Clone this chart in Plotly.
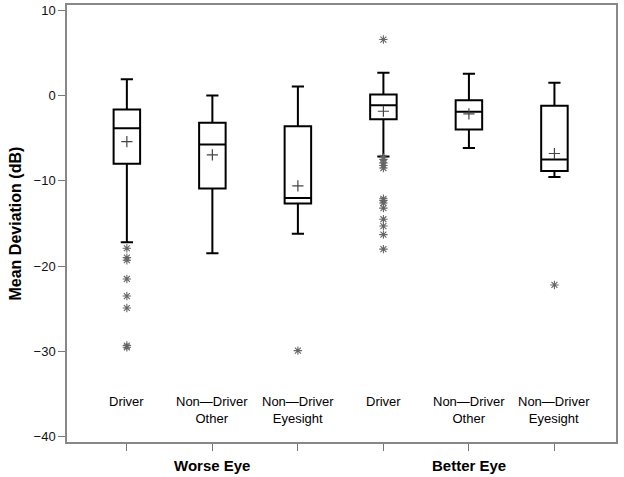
import plotly.graph_objects as go

# ---- data ----
groups = ["Worse Eye", "Better Eye"]
categories = ["Driver", "Non—Driver<br>Other", "Non—Driver<br>Eyesight",
              "Driver", "Non—Driver<br>Other", "Non—Driver<br>Eyesight"]
upper_whisker = [1.9, 0.0, 1.05, 2.65, 2.55, 1.5]
q3 = [-1.65, -3.2, -3.6, 0.1, -0.55, -1.2]
median = [-3.85, -5.75, -12.0, -1.15, -1.9, -7.5]
mean = [-5.4, -6.95, -10.6, -1.85, -2.15, -6.8]
q1 = [-8.0, -10.9, -12.65, -2.8, -4.0, -8.85]
lower_whisker = [-17.2, -18.5, -16.2, -7.15, -6.15, -9.55]
outliers = [
    [-17.9, -19.0, -19.3, -21.5, -23.5, -24.9, -29.3, -29.5],
    [],
    [-29.9],
    [6.55, -7.3, -7.5, -7.9, -8.2, -8.5, -12.1, -12.3, -12.6, -13.2, -14.5, -15.3, -16.3, -18.0],
    [],
    [-22.2],
]
yticks = [-40, -30, -20, -10, 0, 10]

FONT = "Liberation Sans, Arial, Helvetica, sans-serif"
fig = go.Figure()

for i in range(len(categories)):
    fig.add_trace(go.Box(
        x=[i], q1=[q1[i]], median=[median[i]], q3=[q3[i]],
        lowerfence=[lower_whisker[i]], upperfence=[upper_whisker[i]],
        boxpoints=False, width=0.31, whiskerwidth=0.46,
        line=dict(color="black", width=2), fillcolor="white",
        showlegend=False, hoverinfo="skip"))
    fig.add_trace(go.Scatter(
        x=[i], y=[mean[i]], mode="markers",
        marker=dict(symbol="cross-thin-open", size=8, color="#444444",
                    line=dict(color="#444444", width=1.2)),
        showlegend=False))
    if outliers[i]:
        fig.add_trace(go.Scatter(
            x=[i] * len(outliers[i]), y=outliers[i], mode="markers",
            marker=dict(symbol="asterisk-open", size=7, color="#666666",
                        line=dict(color="#666666", width=1.1)),
            showlegend=False))

# category labels inside the plot area
for i, c in enumerate(categories):
    fig.add_annotation(x=i, y=-34.7, xref="x", yref="y", text=c,
                       showarrow=False, yanchor="top", xanchor="center",
                       font=dict(family=FONT, size=13, color="black"))

# group labels below the axis
for g, xc in zip(groups, [1, 4]):
    fig.add_annotation(x=xc, y=0, xref="x", yref="paper", text=g,
                       showarrow=False, yanchor="middle", yshift=-23,
                       font=dict(family=FONT, size=15, color="black", weight="bold"))

# y-axis title
fig.add_annotation(x=0, y=0.5, xref="paper", yref="paper",
                   text="Mean Deviation (dB)", textangle=-90,
                   showarrow=False, xanchor="center", yanchor="middle",
                   xshift=-52,
                   font=dict(family=FONT, size=16, color="black", weight="bold"))

fig.update_layout(
    width=624, height=477,
    margin=dict(l=67, r=8, t=5, b=35, autoexpand=False),
    paper_bgcolor="white", plot_bgcolor="white",
    font=dict(family=FONT, color="black"),
    xaxis=dict(range=[-0.7, 5.72], tickvals=list(range(6)),
               ticktext=[""] * 6, ticks="outside", ticklen=7,
               tickcolor="#777777", showgrid=False, zeroline=False,
               showline=True, linecolor="#888888", linewidth=1.5,
               mirror=True, automargin=False),
    yaxis=dict(range=[-40.6, 10.6], tickvals=yticks, ticks="outside",
               ticklen=7, tickcolor="#777777", showgrid=False,
               zeroline=False, showline=True, linecolor="#888888",
               linewidth=1.5, mirror=True, automargin=False,
               tickfont=dict(family=FONT, size=13, color="#111111")),
)

fig.write_html("out.html",
               config={"displayModeBar": False},
               post_script="document.body.style.margin='0';"
                           "document.body.style.padding='0';"
                           "document.body.style.overflow='hidden';")
